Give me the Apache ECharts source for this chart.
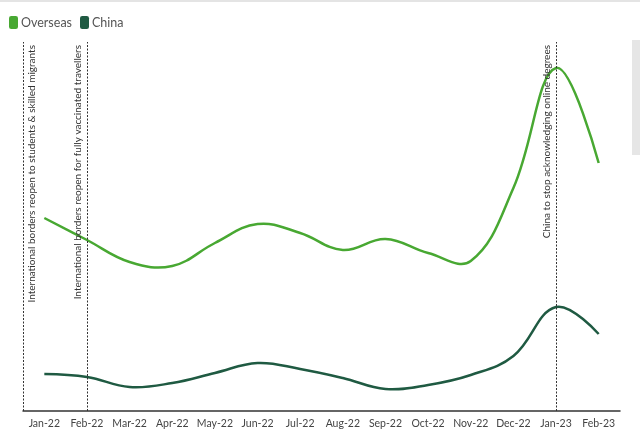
<!DOCTYPE html>
<html><head><meta charset="utf-8">
<script src="https://cdn.jsdelivr.net/npm/echarts@6/dist/echarts.min.js"></script>
<style>html,body{margin:0;padding:0;background:#fff}#c{width:640px;height:446px}</style>
</head><body><div id="c"></div>
<script>
var months = ['Jan-22','Feb-22','Mar-22','Apr-22','May-22','Jun-22','Jul-22','Aug-22','Sep-22','Oct-22','Nov-22','Dec-22','Jan-23','Feb-23'];
var overseas = [193,171,149,145,168,187,178,161,172,158,150,223,343,248];
var china = [37,34,24,28,38,48,42,33,22,26,36,55,104,77];
var eventPos = [-0.5, 1, 12];
var eventLabels = [
  'International borders reopen to students & skilled migrants',
  'International borders reopen for fully vaccinated travellers',
  'China to stop acknowledging online degrees'
];
var eventSide = ['insideEndBottom','insideEndTop','insideEndTop'];

var font = 'Lato';
function splineSeries(name, vals, color) {
  return {
    name: name, type: 'custom', coordinateSystem: 'cartesian2d',
    itemStyle: {color: color},
    encode: {x: 0, y: 1},
    data: vals.map(function(v, i){ return [i, v]; }),
    renderItem: function(params, api) {
      if (params.dataIndex !== 0) return null;
      var pts = [];
      for (var i = 0; i < vals.length; i++) {
        pts.push(api.coord([api.value(0, i), api.value(1, i)]));
      }
      return {
        type: 'polyline',
        shape: {points: pts, smooth: 0.4},
        style: {stroke: color, lineWidth: 2.5, fill: null, lineJoin: 'round'}
      };
    }
  };
}

var chart = echarts.init(document.getElementById('c'));
chart.setOption({
  animation: false,
  textStyle: {fontFamily: font},
  legend: {
    left: 4, top: 11, itemWidth: 9, itemHeight: 13, itemGap: 8,
    icon: 'roundRect',
    data: ['Overseas','China'],
    textStyle: {fontFamily: 'Lato', fontSize: 12.5, color: '#555', padding: [0,0,0,-2]}
  },
  graphic: [
    {type:'rect', shape:{x:0,y:0,width:640,height:2}, style:{fill:'#e4e4e4'}},
    {type:'rect', shape:{x:632,y:40,width:8,height:115}, style:{fill:'#e6e6e6'}}
  ],
  grid: {left: 23, right: 20, top: 42, bottom: 35},
  xAxis: [{
    type: 'category', data: months, boundaryGap: true,
    axisLine: {lineStyle: {color: '#333', width: 1.5}},
    axisTick: {alignWithLabel: true, length: 4, lineStyle: {color: '#333'}},
    axisLabel: {fontFamily: font, fontSize: 10.5, color: '#444', margin: 7, interval: 0}
  },{
    type: 'value', min: -0.5, max: 13.5, show: false
  }],
  yAxis: {type: 'value', min: 0, max: 369, show: false, splitLine: {show: false}},
  series: [
    splineSeries('Overseas', overseas, '#48a832'),
    splineSeries('China', china, '#1f5a42'),
    {
      name: 'events', type: 'line', xAxisIndex: 1, data: [],
      markLine: {
        silent: true, symbol: 'none',
        lineStyle: {type: [2,1.5], color: '#333', width: 1},
        data: eventPos.map(function(p, i){
          return {xAxis: p, label: {show: true, position: eventSide[i], formatter: eventLabels[i],
            fontFamily: font, fontSize: 10, color: '#333', distance: [3, 4]}};
        })
      }
    }
  ]
});
</script></body></html>
